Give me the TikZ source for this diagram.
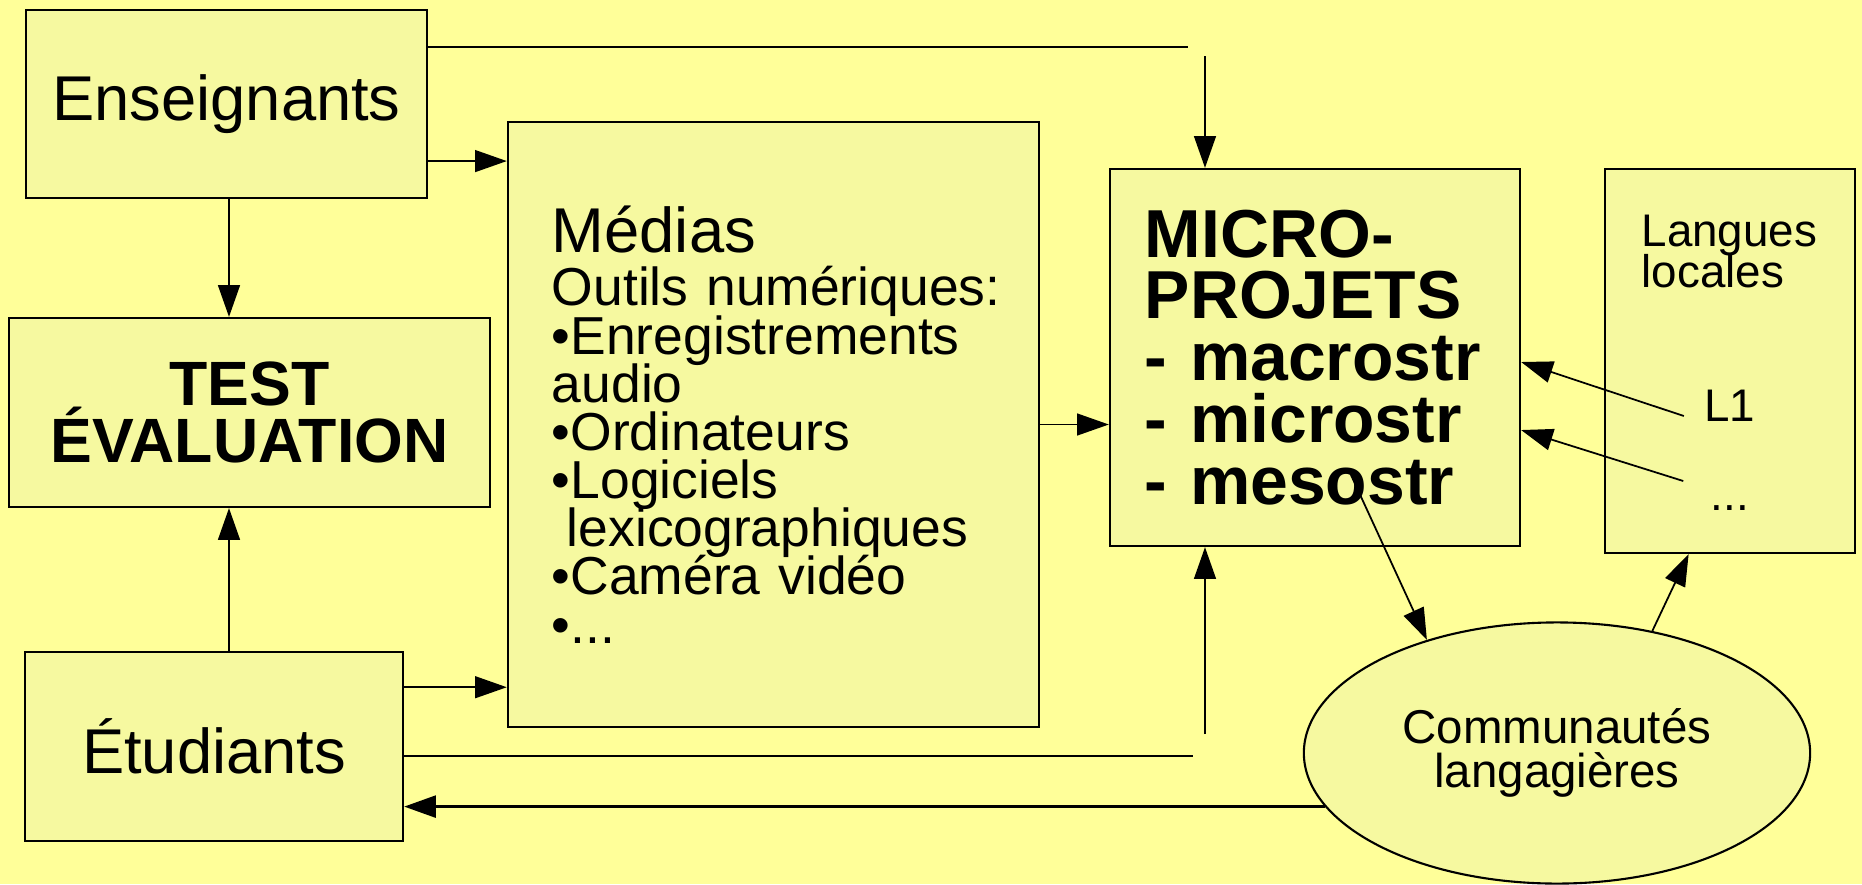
\documentclass[tikz,border=0pt]{standalone}
\usepackage{fontspec}
\setmainfont{Liberation Sans}
\usetikzlibrary{arrows.meta,positioning,shapes.geometric,calc}

\definecolor{slide}{RGB}{255,255,153}
\definecolor{boxfill}{RGB}{246,249,160}
% tight line spacing of the slide: never fall back on \lineskip
\newcommand\tightlines{\lineskiplimit=-20pt\lineskip=0pt}

\begin{document}
\begin{tikzpicture}[x=0.01cm, y=-0.01cm,
    box/.style={draw, fill=boxfill, line width=0.6pt, inner sep=0pt},
    arr/.style={-{Triangle[length=9pt,width=6.2pt]}, line width=0.5pt}]
  \fill[slide] (0,0) rectangle (1862,884);
  \useasboundingbox (0,0) rectangle (1862,884);

  % actors and tools
  \node[box, minimum width=4.01cm, minimum height=1.88cm, font=\fontsize{18}{20}\selectfont] (ens) at (226.5,104) {Enseignants};
  \node[box, minimum width=4.81cm, minimum height=1.89cm, align=center, font=\fontsize{17.8}{16.3}\selectfont\bfseries\tightlines] (test) at (249.5,412.5) {TEST\\ÉVALUATION};
  \node[box, minimum width=3.78cm, minimum height=1.89cm, font=\fontsize{18}{20}\selectfont] (etu) at (214,746.5) {Étudiants};
  \node[box, minimum width=5.31cm, minimum height=6.05cm, text width=4.43cm, align=left, font=\fontsize{15.2}{13.7}\selectfont\tightlines] (med) at (773.5,424.5)
    {{\fontsize{18}{20}\selectfont Médias}\\[1.5pt]
     Outils~numériques:\\•Enregistrements\\audio\\•Ordinateurs\\•Logiciels\\\hspace*{0.28em}lexicographiques\\•Caméra vidéo\\•...};
  \node[box, minimum width=4.10cm, minimum height=3.77cm, text width=3.4cm, align=left, font=\fontsize{19.3}{17.6}\selectfont\bfseries\tightlines] (micro) at (1315,357.5)
    {MICRO-\\PROJETS\\- macrostr\\- microstr\\- mesostr};
  \node[box, minimum width=2.50cm, minimum height=3.84cm] (lang) at (1730,361) {};
  \node[box, ellipse, minimum width=5.06cm, minimum height=2.61cm, align=center, font=\fontsize{13.5}{12.5}\selectfont\tightlines] (ell) at (1557,753) {Communautés\\langagières};

  % inside the languages box
  \node[anchor=north west, inner sep=0pt, align=left, font=\fontsize{13}{11.8}\selectfont\tightlines] (langt) at (1641,214) {Langues\\locales};
  \node[anchor=base, inner sep=0pt, font=\fontsize{13}{15}\selectfont] (l1) at (1730,421) {L1};
  \node[anchor=base, inner sep=0pt, font=\fontsize{13}{15}\selectfont] (dots) at (1730,510) {...};

  % bends of the long connectors
  \coordinate (topend) at (1188,47);
  \coordinate (topdrop) at (1205,56);
  \coordinate (lowend) at (1193,756);
  \coordinate (lowrise) at (1205,734);

  \draw[line width=0.8pt] (ens.east |- topend) -- (topend);
  \draw[arr] (topdrop) -- (topdrop |- micro.north);
  \draw[arr] ($(ens.north east)!.8!(ens.south east)$) coordinate (p) -- (p -| med.west);
  \draw[arr] ([xshift=0.025cm]ens.south) coordinate (q) -- (q |- test.north);
  \draw[arr] (etu.north -| q) -- (q |- test.south);
  \draw[arr] ($(etu.north east)!.19!(etu.south east)$) coordinate (p) -- (p -| med.west);
  \draw[arr] (med.east) -- (med.east -| micro.west);
  \draw (etu.east |- lowend) -- (lowend);
  \draw[arr] (lowrise) -- (lowrise |- micro.south);
  \draw[arr, line width=0.85pt] (ell.193) -- (ell.193 -| etu.east);
  \draw[arr] ([shift={(36,117.5)}]micro.center) -- (ell.139);
  \draw[arr] (ell.52) -- ($(lang.south west)!.336!(lang.south east)$);
  \foreach \src/\dx/\dy/\ys in {l1/-20/-5/0.045, dots/-27/-29/0.725}
    \draw[arr] ([shift={(\dx,\dy)}]\src.base west) -- ([yshift=-\ys cm]micro.east);
\end{tikzpicture}
\end{document}
